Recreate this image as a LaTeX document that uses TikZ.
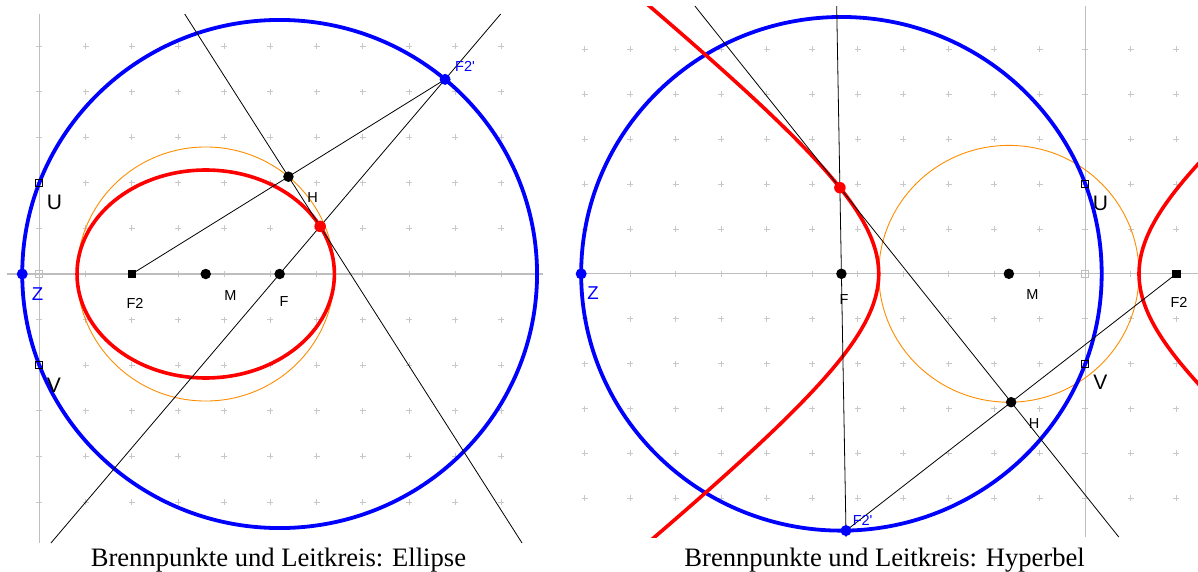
\documentclass[tikz,border=0pt]{standalone}
\usepackage{fontspec}
\setmainfont{Liberation Serif}
\newfontfamily\labf{Liberation Sans}[Ligatures=TeXOff]
\definecolor{gridg}{RGB}{200,200,200}
\definecolor{axisg}{RGB}{190,190,190}
\definecolor{orangeG}{RGB}{255,140,0}
\begin{document}
\begin{tikzpicture}[x=1pt,y=1pt,
  gridc/.style={draw=gridg, line width=0.8pt},
  axisline/.style={draw=axisg, line width=1.3pt},
  leit/.style={draw=blue, line width=3.8pt},
  curve/.style={draw=red, line width=3.6pt},
  scheitel/.style={draw=orangeG, line width=0.9pt},
  cline/.style={draw=black, line width=0.8pt},
  dotb/.style={circle, fill=black, inner sep=0pt, minimum size=10.5pt},
  dotblue/.style={circle, fill=blue, inner sep=0pt, minimum size=11pt},
  dotred/.style={circle, fill=red, inner sep=0pt, minimum size=11.5pt},
  sqfill/.style={rectangle, fill=black, inner sep=0pt, minimum size=8.5pt},
  sqopen/.style={rectangle, draw=black, line width=0.9pt, inner sep=0pt, minimum size=7pt},
  sqgrey/.style={rectangle, draw=axisg, line width=0.9pt, inner sep=0pt, minimum size=7pt},
  smalllab/.style={font=\labf\fontsize{14.5}{15}\selectfont, inner sep=0pt},
  biglab/.style={font=\labf\fontsize{21}{22}\selectfont, inner sep=0pt},
  zlab/.style={font=\labf\fontsize{18.6}{19}\selectfont, inner sep=0pt, text=blue},
  captionlab/.style={font=\fontsize{26.6}{28}\selectfont, inner sep=0pt, anchor=base},
]
\useasboundingbox (0,0) rectangle (1198,-572);

% ---------------- left panel: ellipse ----------------
\begin{scope}[shift={(39.4pt,-274pt)}, x=46.2pt, y=45.6pt]
  \foreach \i in {0,...,10} \foreach \j in {-5,...,5} {
    \draw[gridc] (\i,\j) ++(-3pt,0) -- ++(6pt,0) (\i,\j) ++(0,-3pt) -- ++(0,6pt);
  }
  \coordinate (LO) at (0,0);
  \coordinate (LXa) at (-0.701,0);
  \coordinate (LXb) at (10.90,0);
  \coordinate (LYa) at (0,5.702);
  \coordinate (LYb) at (0,-5.899);
  \coordinate (LF2) at (2,0);
  \coordinate (LM) at (3.6,0);
  \coordinate (LF) at (5.2,0);
  \coordinate (LF2p) at (8.7812,4.2679);
  \coordinate (LH) at (5.3906,2.1340);
  \coordinate (LP) at (6.0764,1.0444);
  \coordinate (LU) at (0,2);
  \coordinate (LV) at (0,-2);
  \coordinate (LZ) at (-0.3714,0);
  \coordinate (LA1) at (9.9845,5.702);
  \coordinate (LA2) at (0.2501,-5.899);
  \coordinate (LB1) at (3.1450,5.702);
  \coordinate (LB2) at (10.4464,-5.899);
  \draw[axisline] (LXa) -- (LXb);
  \draw[axisline] (LYa) -- (LYb);
  \draw[scheitel] (LM) circle [radius=2.7857];
  \draw[leit] (LF) circle [radius=5.5714];
  \draw[curve] (LM) ellipse [x radius=2.7857, y radius=2.2804];
  \draw[cline] (LA2) -- (LA1);
  \draw[cline] (LB1) -- (LB2);
  \draw[cline] (LF2) -- (LF2p);
  \node[sqgrey] (nLO) at (LO) {};
  \node[sqopen] (nLU) at (LU) {};
  \node[sqopen] (nLV) at (LV) {};
  \node[sqfill] (nLF2) at (LF2) {};
  \node[dotb] (nLM) at (LM) {};
  \node[dotb] (nLF) at (LF) {};
  \node[dotb] (nLH) at (LH) {};
  \node[dotred] (nLP) at (LP) {};
  \node[dotblue] (nLF2p) at (LF2p) {};
  \node[dotblue] (nLZ) at (LZ) {};
\end{scope}
\node[smalllab] (tLF2) at (135,-303.3) {F2};
\node[smalllab] (tLM) at (230.5,-295.7) {M};
\node[smalllab] (tLF) at (284,-301.5) {F};
\node[smalllab] (tLH) at (312.7,-197.3) {H};
\node[smalllab, text=blue] (tLF2p) at (465,-66.7) {F2'};
\node[biglab] (tLU) at (54.5,-202.7) {U};
\node[biglab] (tLV) at (54,-385.7) {V};
\node[zlab] (tLZ) at (37.5,-294) {Z};
\node[captionlab] (capL) at (278.4,-566.7) {Brennpunkte und Leitkreis: Ellipse};

% ---------------- right panel: hyperbola ----------------
\begin{scope}[shift={(1085.3pt,-273.8pt)}, x=45.5pt, y=44.9pt]
  \foreach \i in {-11,...,2} \foreach \j in {-5,...,5} {
    \draw[gridc] (\i,\j) ++(-3pt,0) -- ++(6pt,0) (\i,\j) ++(0,-3pt) -- ++(0,6pt);
  }
  \coordinate (RO) at (0,0);
  \coordinate (RXa) at (-11.15,0);
  \coordinate (RXb) at (2.48,0);
  \coordinate (RYa) at (0,5.964);
  \coordinate (RYb) at (0,-5.862);
  \coordinate (RF) at (-5.36,0);
  \coordinate (RM) at (-1.68,0);
  \coordinate (RF2) at (2,0);
  \coordinate (RF2p) at (-5.26017,-5.71914);
  \coordinate (RH) at (-1.63009,-2.85957);
  \coordinate (RP) at (-5.39348,1.91786);
  \coordinate (RU) at (0,1.9972);
  \coordinate (RV) at (0,-1.9972);
  \coordinate (RZ) at (-11.08,0);
  \coordinate (RA1) at (-5.4641,5.964);
  \coordinate (RA2) at (-5.2577,-5.862);
  \coordinate (RB1) at (-8.58079,5.964);
  \coordinate (RB2) at (0.73507,-5.862);
  \draw[axisline] (RXa) -- (RXb);
  \draw[axisline] (RYa) -- (RYb);
  \draw[scheitel] (RM) circle [radius=2.86];
  \draw[leit] (RF) circle [radius=5.72];
  \begin{scope}
    \clip (-11.2,-5.862) rectangle (2.477,5.964);
    \draw[curve, domain=-1.75:1.75, samples=90, variable=\u]
      plot ({-1.68-2.86*cosh(\u)}, {2.3158*sinh(\u)});
    \draw[curve, domain=-1.0:1.0, samples=60, variable=\u]
      plot ({-1.68+2.86*cosh(\u)}, {2.3158*sinh(\u)});
  \end{scope}
  \draw[cline] (RA1) -- (RA2);
  \draw[cline] (RB1) -- (RB2);
  \draw[cline] (RF2) -- (RF2p);
  \node[sqgrey] (nRO) at (RO) {};
  \node[sqopen] (nRU) at (RU) {};
  \node[sqopen] (nRV) at (RV) {};
  \node[sqfill] (nRF2) at (RF2) {};
  \node[dotb] (nRM) at (RM) {};
  \node[dotb] (nRF) at (RF) {};
  \node[dotb] (nRH) at (RH) {};
  \node[dotred] (nRP) at (RP) {};
  \node[dotblue] (nRF2p) at (RF2p) {};
  \node[dotblue] (nRZ) at (RZ) {};
\end{scope}
\node[smalllab] (tRF) at (844,-300) {F};
\node[smalllab] (tRM) at (1032.5,-295) {M};
\node[smalllab] (tRF2) at (1179,-302.7) {F2};
\node[smalllab] (tRH) at (1034,-424) {H};
\node[smalllab, text=blue] (tRF2p) at (862.6,-520) {F2'};
\node[biglab] (tRU) at (1100.5,-203) {U};
\node[biglab] (tRV) at (1100.3,-382.7) {V};
\node[zlab] (tRZ) at (593,-293.3) {Z};
\node[captionlab] (capR) at (884.6,-566.7) {Brennpunkte und Leitkreis: Hyperbel};
\end{tikzpicture}
\end{document}
